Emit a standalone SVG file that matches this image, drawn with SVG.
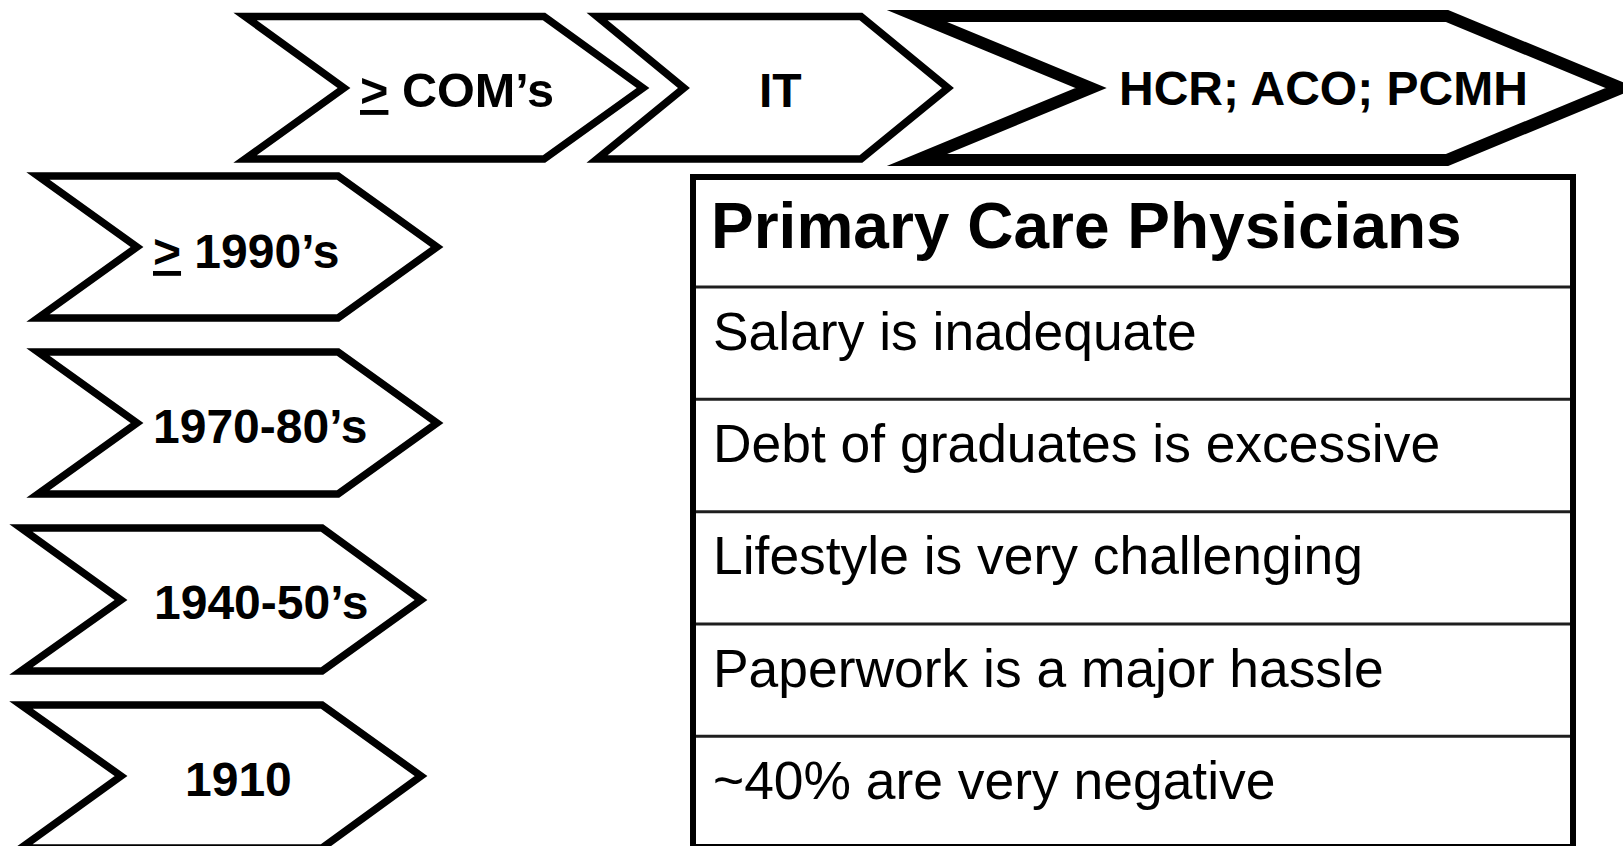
<svg xmlns="http://www.w3.org/2000/svg" width="1623" height="846" viewBox="0 0 1623 846">
<style>
.chev{fill:#fff;stroke:#000;stroke-width:7.5;stroke-linejoin:miter;stroke-miterlimit:10}
.thick{stroke-width:12}
.lbl{font-family:"Liberation Sans",Arial,Helvetica,sans-serif;font-weight:bold;font-size:48px;fill:#000}
.u{text-decoration:underline}
.tbl{fill:#fff;stroke:#000;stroke-width:6}
.rule{stroke:#1e1e1e;stroke-width:3}
.hdr{font-family:"Liberation Sans",Arial,Helvetica,sans-serif;font-weight:bold;font-size:64px;fill:#000}
.row{font-family:"Liberation Sans",Arial,Helvetica,sans-serif;font-size:53.4px;fill:#000}
</style>
<rect x="0" y="0" width="1623" height="846" fill="#fff"/>
<g id="connectors"></g>
<g id="node-coms">
<polygon class="chev" points="245,16.5 544,16.5 643,88 544,159 245,159 344,88"/>
<text class="lbl" x="360" y="107" style="font-size:48.6px"><tspan class="u">&gt;</tspan> COM’s</text>
</g>
<g id="node-it">
<polygon class="chev" points="597,16.5 861,16.5 948,88 861,159 597,159 684,88"/>
<text class="lbl" x="759" y="107">IT</text>
</g>
<g id="node-hcr">
<polygon class="chev thick" points="917,16 1447,16 1621,88 1447,160 917,160 1091,88"/>
<text class="lbl" x="1119" y="105">HCR; ACO; PCMH</text>
</g>
<g id="node-1990s">
<polygon class="chev" points="38,176 338,176 437,247 338,318 38,318 137,247"/>
<text class="lbl" x="153" y="268"><tspan class="u">&gt;</tspan> 1990’s</text>
</g>
<g id="node-1970s">
<polygon class="chev" points="38,352 338,352 437,423 338,494 38,494 137,423"/>
<text class="lbl" x="153" y="443">1970-80’s</text>
</g>
<g id="node-1940s">
<polygon class="chev" points="21,528 322,528 421,600 322,671 21,671 121,600"/>
<text class="lbl" x="154" y="619">1940-50’s</text>
</g>
<g id="node-1910">
<polygon class="chev" points="21,705 322,705 421,776 322,848 21,848 121,776"/>
<text class="lbl" x="185" y="796">1910</text>
</g>
<g id="node-table">
<rect class="tbl" x="693" y="177" width="880" height="670"/>
<line class="rule" x1="696" y1="287" x2="1570" y2="287"/>
<line class="rule" x1="696" y1="399.3" x2="1570" y2="399.3"/>
<line class="rule" x1="696" y1="511.7" x2="1570" y2="511.7"/>
<line class="rule" x1="696" y1="624" x2="1570" y2="624"/>
<line class="rule" x1="696" y1="736.3" x2="1570" y2="736.3"/>
<text class="hdr" x="711" y="248">Primary Care Physicians</text>
<text class="row" x="713" y="350">Salary is inadequate</text>
<text class="row" x="713" y="462">Debt of graduates is excessive</text>
<text class="row" x="713" y="574">Lifestyle is very challenging</text>
<text class="row" x="713" y="687">Paperwork is a major hassle</text>
<text class="row" x="713" y="799">~40% are very negative</text>
</g>
</svg>
